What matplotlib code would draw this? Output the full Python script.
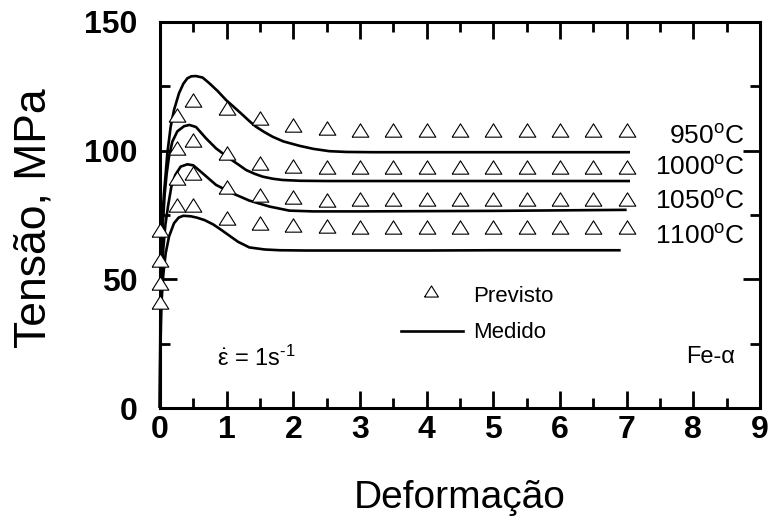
import matplotlib
matplotlib.use("Agg")
import matplotlib.pyplot as plt
from matplotlib.ticker import MultipleLocator

plt.rcParams['font.family'] = ['Liberation Sans', 'DejaVu Sans']
plt.rcParams['mathtext.fontset'] = 'custom'
plt.rcParams['mathtext.rm'] = 'Liberation Sans'
plt.rcParams['mathtext.it'] = 'Liberation Sans:italic'
plt.rcParams['mathtext.bf'] = 'Liberation Sans:bold'

# ---- data ----
temps = ['950', '1000', '1050', '1100']

strain_950 = [0, 0.005, 0.02, 0.04, 0.06, 0.085, 0.11, 0.16, 0.21, 0.285, 0.35, 0.41, 0.47, 0.54,
              0.64, 0.74, 0.86, 0.99, 1.12, 1.24, 1.34, 1.44, 1.56, 1.69, 1.85, 2.09, 2.3, 2.54,
              2.8, 3.2, 4, 5, 6, 7.05]
stress_950 = [0, 35, 65, 76, 83.4, 91, 99, 109.3, 115.8, 122.3, 126, 128.1, 128.9, 129,
              128.4, 126.2, 123.3, 119.7, 116.7, 113.9, 111.5, 109.3, 107.3, 105.4, 103.6, 101.9, 100.7, 99.8,
              99.5, 99.4, 99.4, 99.4, 99.4, 99.4]

strain_1000 = [0, 0.005, 0.02, 0.04, 0.07, 0.1, 0.135, 0.185, 0.26, 0.36, 0.44, 0.54, 0.69, 0.84,
               1.04, 1.17, 1.29, 1.42, 1.54, 1.69, 1.84, 2.1, 2.5, 3, 4, 5, 6, 7.05]
stress_1000 = [0, 30, 55, 70, 83, 91, 97.7, 103.5, 107.5, 109.5, 110, 109.2, 104.8, 100.9,
               97, 94.7, 92.5, 91, 89.9, 89.1, 88.6, 88.3, 88.2, 88.2, 88.2, 88.2, 88.2, 88.2]

strain_1050 = [0, 0.005, 0.02, 0.05, 0.08, 0.12, 0.17, 0.23, 0.31, 0.41, 0.5, 0.64, 0.84, 1.09,
               1.34, 1.64, 1.94, 2.3, 3, 4, 5, 6, 7.0]
stress_1050 = [0, 25, 48, 62, 71, 78.3, 86, 90.6, 93.8, 94.7, 94.3, 91.2, 86.7, 83.4,
               80.6, 78.3, 76.7, 76.4, 76.4, 76.5, 76.6, 76.8, 77.0]

strain_1100 = [0, 0.005, 0.02, 0.05, 0.085, 0.135, 0.21, 0.28, 0.35, 0.46, 0.55, 0.67, 0.8, 0.92,
               1.05, 1.17, 1.34, 1.57, 1.8, 2.2, 3, 4, 5, 6, 6.91]
stress_1100 = [0, 20, 40, 52, 60.1, 66.6, 71.8, 74, 74.7, 74.5, 74.0, 73.0, 71.3, 69.2,
               66.8, 64.6, 62.4, 61.6, 61.3, 61.2, 61.2, 61.2, 61.3, 61.3, 61.3]

pred_strain = [0, 0.25, 0.5, 1, 1.5, 2, 2.5, 3, 3.5, 4, 4.5, 5, 5.5, 6, 6.5, 7]
pred_950 = [69.2, 113.9, 119.7, 116.5, 112.6, 110, 108.7, 108, 108, 108, 108, 108, 108, 108, 108, 108]
pred_1000 = [57.5, 100.9, 104.2, 99, 95.3, 94.1, 93.8, 93.5, 93.5, 93.5, 93.5, 93.5, 93.5, 93.5, 93.5, 93.5]
pred_1050 = [48.6, 89.2, 91.2, 86, 82.8, 81.9, 80.8, 81.1, 81.1, 81.1, 81.1, 81.1, 81.1, 81.1, 81.1, 81.1]
pred_1100 = [41.3, 78.9, 78.9, 73.7, 71.8, 71.0, 70.7, 70.5, 70.5, 70.5, 70.5, 70.5, 70.5, 70.5, 70.5, 70.5]

label_y = [105.3, 93.3, 80.0, 66.5]

measured = [(strain_950, stress_950), (strain_1000, stress_1000),
            (strain_1050, stress_1050), (strain_1100, stress_1100)]
predicted = [pred_950, pred_1000, pred_1050, pred_1100]

# ---- figure ----
fig = plt.figure(figsize=(7.78, 5.23), dpi=100)
ax = fig.add_axes([160/778, 1 - 408/523, 600/778, 386/523])

tri = [(-1, -0.8), (1, -0.8), (0, 0.8), (-1, -0.8)]

for (sx, sy) in measured:
    ax.plot(sx, sy, color='black', lw=1.9, solid_capstyle='butt', clip_on=False)
for py in predicted:
    ax.plot(pred_strain, py, linestyle='none', marker=tri, markersize=12,
            markerfacecolor='white', markeredgecolor='black', markeredgewidth=0.8,
            clip_on=False, zorder=3)

for t, y in zip(temps, label_y):
    ax.text(8.77, y, t + r'$^{\mathrm{o}}$C', ha='right', va='center', fontsize=19)

# legend (drawn as in the original, inside the axes)
ax.plot([4.07], [45.3], linestyle='none', marker=tri, markersize=10,
        markerfacecolor='white', markeredgecolor='black', markeredgewidth=0.8)
ax.text(4.69, 43.3, 'Previsto', ha='left', va='center', fontsize=16)
ax.plot([3.62, 4.54], [30.0, 30.0], color='black', lw=1.9)
ax.text(4.69, 29.3, 'Medido', ha='left', va='center', fontsize=16)

ax.text(0.86, 19.5, '$\\dot{\\mathrm{\\varepsilon}}$ = 1s$^{\\mathrm{\u2010}1}$',
        ha='left', va='center', fontsize=17)
ax.text(8.62, 20.0, 'Fe-\u03b1', ha='right', va='center', fontsize=17)

ax.set_xlim(0, 9)
ax.set_ylim(0, 150)
ax.xaxis.set_major_locator(MultipleLocator(1))
ax.xaxis.set_minor_locator(MultipleLocator(0.5))
ax.yaxis.set_major_locator(MultipleLocator(50))
ax.yaxis.set_minor_locator(MultipleLocator(25))
ax.tick_params(which='both', direction='in', top=True, right=True, width=2.0)
ax.tick_params(which='major', length=12, labelsize=23)
ax.tick_params(which='minor', length=7)
ax.tick_params(axis='y', which='major', pad=16)
ax.tick_params(axis='x', which='major', pad=5)
for lab in ax.get_xticklabels() + ax.get_yticklabels():
    lab.set_fontweight('bold')
for s in ax.spines.values():
    s.set_linewidth(2.2)

ax.set_xlabel('Deformação', fontsize=28, va='top')
ax.xaxis.set_label_coords(0.5, (408 - 480) / 386)
ax.set_ylabel('Tensão, MPa', fontsize=32)
ax.yaxis.set_label_coords((55 - 160) / 600, (408 - 218) / 386)

fig.savefig('out.png', dpi=100)
